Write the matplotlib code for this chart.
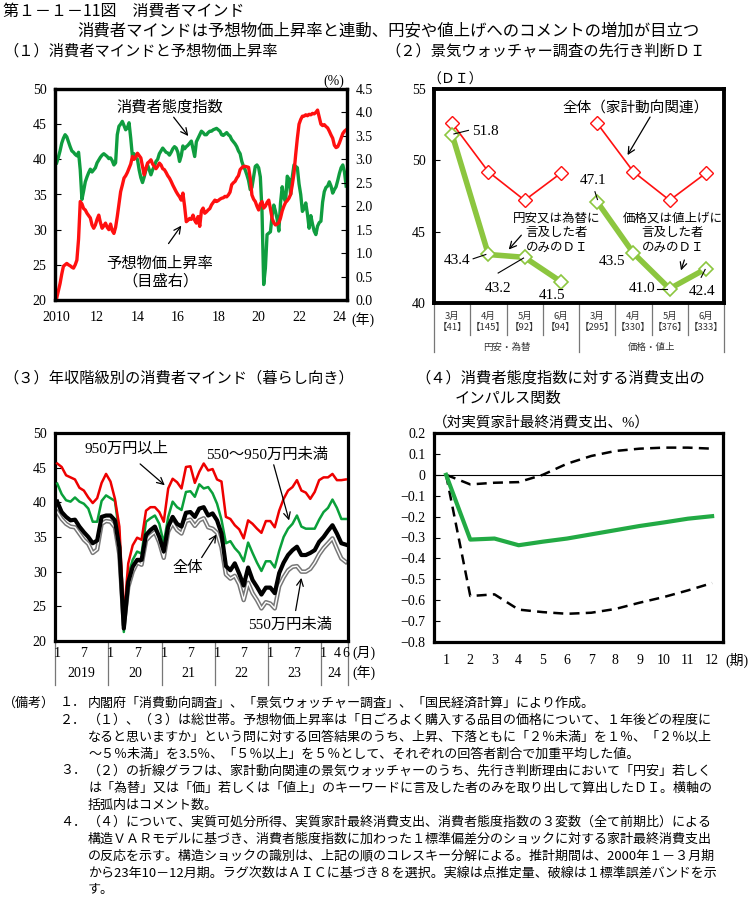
import numpy as np
import matplotlib
matplotlib.use('Agg')
import matplotlib.pyplot as plt

W, H = 752, 909
SANS = ['Noto Sans CJK JP', 'DejaVu Sans']
SERIF = ['Liberation Serif', 'Noto Sans CJK JP', 'DejaVu Sans']
plt.rcParams['font.family'] = SERIF

# (1) 消費者態度指数（左軸）と予想物価上昇率（右軸, %） 2010年1月～2024年5月
cci = [
    39.5, 40.3, 41.2, 42.3, 43.0, 43.5, 43.2, 42.5, 41.8, 41.2, 41.0, 40.7,
    40.5, 41.0, 38.5, 34.3, 35.5, 36.8, 37.5, 38.1, 38.6, 38.2, 38.5, 38.8,
    39.5, 39.9, 40.3, 40.6, 40.8, 40.6, 40.4, 40.1, 40.2, 39.8, 39.2, 39.5,
    43.5, 44.7, 45.0, 45.4, 44.8, 44.2, 44.5, 45.2, 43.0, 40.4, 40.8, 40.2,
    40.0, 38.5, 37.4, 36.7, 37.5, 38.5, 39.2, 38.5, 37.8, 38.5, 39.0, 39.7,
    40.0, 40.8, 41.2, 41.6, 41.3, 41.0, 40.9, 40.6, 41.0, 41.5, 41.8, 41.6,
    41.0, 39.7, 40.5, 41.9, 41.5, 41.8, 42.0, 42.3, 42.6, 41.5, 40.4, 42.5,
    43.0, 43.5, 44.0, 43.8, 43.5, 43.5, 43.8, 44.0, 44.0, 44.2, 44.3, 44.4,
    44.2, 44.0, 43.5, 43.4, 43.6, 43.8, 43.5, 43.3, 42.8, 42.5, 42.2, 41.8,
    41.2, 40.8, 39.7, 39.0, 38.5, 37.8, 37.0, 35.7, 36.0, 37.5, 39.0, 39.2,
    38.8, 37.5, 32.6, 22.2, 24.5, 29.3, 29.5, 29.7, 32.0, 33.5, 32.6, 31.5,
    29.8, 33.8, 36.1, 34.5, 34.0, 37.6, 37.2, 35.0, 37.5, 39.2, 39.0, 38.8,
    36.5, 35.0, 32.6, 33.0, 33.8, 32.2, 30.2, 32.0, 30.8, 29.8, 29.3, 30.5,
    31.0, 31.2, 33.9, 35.4, 36.0, 36.2, 36.8, 36.2, 35.2, 35.7, 36.1, 37.0,
    38.0, 38.8, 39.2, 38.2, 36.2,
]
infl = [
    0.04, 0.20, 0.35, 0.55, 0.72, 0.75, 0.78, 0.75, 0.73, 0.70, 0.68, 0.75,
    0.85, 1.30, 2.10, 2.05, 1.95, 1.92, 1.85, 1.80, 1.75, 1.60, 1.53, 1.60,
    1.72, 1.81, 1.65, 1.53, 1.58, 1.64, 1.55, 1.50, 1.62, 1.48, 1.42, 1.55,
    1.78, 2.05, 2.31, 2.45, 2.60, 2.65, 2.72, 2.81, 2.90, 3.06, 3.00, 3.05,
    3.13, 3.08, 3.03, 2.85, 2.67, 2.80, 2.92, 2.95, 2.99, 2.90, 2.85, 2.80,
    2.85, 2.92, 2.88, 2.80, 2.78, 2.72, 2.65, 2.60, 2.53, 2.45, 2.38, 2.31,
    2.25, 2.20, 2.13, 2.28, 2.00, 1.67, 1.70, 1.74, 1.72, 1.81, 1.70, 1.64,
    1.78, 1.57, 1.90, 1.96, 1.85, 1.88, 1.92, 1.95, 2.03, 2.08, 2.13, 2.10,
    2.12, 2.15, 2.17, 2.18, 2.21, 2.20, 2.24, 2.30, 2.46, 2.50, 2.53, 2.60,
    2.65, 2.78, 2.82, 2.85, 2.85, 2.84, 2.83, 2.60, 2.24, 2.15, 2.10, 2.00,
    1.92, 2.05, 2.10, 1.96, 2.00, 2.08, 2.13, 1.95, 1.74, 1.65, 1.60, 1.62,
    1.65, 1.75, 1.90, 2.00, 2.08, 2.12, 2.17, 2.25, 2.46, 2.70, 3.10, 3.45,
    3.75, 3.85, 3.92, 3.92, 3.95, 3.93, 3.96, 3.95, 3.98, 3.97, 4.00, 4.05,
    3.90, 3.75, 3.72, 3.74, 3.70, 3.67, 3.60, 3.52, 3.45, 3.30, 3.25, 3.27,
    3.35, 3.45, 3.55, 3.60, 3.63,
]
year_ticks1 = ['2010', '12', '14', '16', '18', '20', '22', '24']

# (2) 景気ウォッチャー 先行き判断DI
cats2 = ['3月\n【41】', '4月\n【145】', '5月\n【92】', '6月\n【94】',
         '3月\n【295】', '4月\n【330】', '5月\n【376】', '6月\n【333】']
groups2 = ['円安・為替', '価格・値上']
total_yen = [52.6, 49.2, 47.2, 49.1]
total_price = [52.6, 49.2, 47.2, 49.1]
di_yen = [51.8, 43.4, 43.2, 41.5]
di_price = [47.1, 43.5, 41.0, 42.4]

# (3) 年収階級別（暮らし向き） 2019年1月～2024年6月
inc_high = [
    45.6, 45.1, 43.9, 43.6, 43.3, 42.1, 41.7, 40.7, 39.9, 40.6, 42.8, 44.1,
    43.0, 40.5, 36.5, 23.5, 31.2, 33.8, 34.9, 34.6, 38.8, 39.3, 39.3, 38.6,
    37.2, 42.0, 43.4, 42.9, 42.0, 45.1, 45.2, 42.8, 44.4, 45.6, 44.6, 44.8,
    43.3, 43.0, 37.9, 37.6, 36.7, 36.1, 34.8, 37.4, 36.9, 36.2, 35.6, 37.3,
    37.3, 36.4, 38.8, 40.5, 41.7, 42.2, 43.2, 41.7, 41.4, 40.5, 41.5, 43.2,
    43.6, 43.6, 44.1, 43.2, 43.2, 43.3,
]
inc_mid = [
    42.7, 41.2, 40.3, 40.1, 40.7, 40.1, 39.8, 39.1, 37.2, 37.2, 40.2, 41.0,
    40.6, 40.2, 35.5, 21.3, 29.5, 31.7, 32.9, 32.6, 37.2, 37.7, 38.1, 36.9,
    34.1, 37.9, 40.1, 39.3, 38.9, 41.5, 41.6, 40.8, 42.6, 42.0, 42.2, 41.3,
    39.8, 37.5, 34.1, 34.4, 33.4, 32.7, 31.5, 34.2, 32.7, 31.3, 30.1, 31.5,
    31.5, 30.6, 33.0, 35.0, 36.2, 36.9, 38.1, 36.5, 36.2, 36.2, 36.2, 37.5,
    38.6, 39.2, 40.4, 39.2, 37.6, 37.6,
]
inc_all = [
    40.1, 38.6, 37.9, 37.4, 37.5, 36.5, 35.7, 35.0, 34.1, 34.5, 37.9, 38.1,
    38.1, 37.4, 33.5, 21.8, 28.5, 30.7, 31.7, 31.7, 35.3, 36.0, 36.5, 35.0,
    32.9, 36.5, 37.9, 36.9, 36.5, 38.5, 38.6, 37.9, 39.1, 39.3, 38.1, 38.4,
    37.4, 35.5, 30.8, 30.2, 31.2, 29.7, 28.0, 30.6, 28.8, 27.8, 26.7, 27.7,
    27.7, 26.9, 29.8, 31.3, 32.4, 33.1, 33.6, 32.4, 32.4, 32.7, 33.1, 34.3,
    35.0, 35.9, 36.7, 35.5, 34.1, 33.9,
]
inc_low = [
    38.6, 37.6, 36.9, 36.5, 36.4, 35.5, 34.6, 34.0, 32.7, 33.2, 36.9, 37.3,
    37.2, 36.4, 32.5, 22.3, 27.8, 30.0, 31.3, 31.0, 34.5, 35.2, 35.7, 34.2,
    32.0, 35.8, 37.0, 36.0, 35.5, 37.3, 37.5, 36.6, 37.4, 37.7, 36.4, 36.2,
    35.6, 33.5, 29.6, 29.0, 29.4, 28.2, 25.9, 28.4, 26.9, 25.9, 24.7, 25.6,
    25.4, 24.7, 27.9, 29.2, 30.2, 30.7, 30.8, 30.0, 30.0, 30.4, 31.3, 32.5,
    33.4, 34.1, 34.8, 33.3, 31.9, 31.4,
]
years3 = ['2019', '20', '21', '22', '23', '24']

# (4) インパルス応答
periods = list(range(1, 13))
irf = [0.0, -0.31, -0.305, -0.337, -0.32, -0.305, -0.285, -0.265, -0.245, -0.228, -0.21, -0.198]
irf_up = [0.0, -0.046, -0.038, -0.035, 0.0, 0.053, 0.09, 0.114, 0.125, 0.13, 0.13, 0.125]
irf_lo = [0.0, -0.58, -0.572, -0.645, -0.657, -0.665, -0.66, -0.642, -0.612, -0.585, -0.553, -0.518]

fig = plt.figure(figsize=(W / 100, H / 100), dpi=100)
fig.patch.set_facecolor('white')


def box(l, t, r, b):
    return fig.add_axes([l / W, 1 - b / H, (r - l) / W, (b - t) / H])


def ftext(x, y, s, **kw):
    kw.setdefault('va', 'center')
    fig.text(x / W, 1 - y / H, s, **kw)


def frame(ax, lw=2.3):
    for sp in ax.spines.values():
        sp.set_linewidth(lw)
        sp.set_color('black')
    ax.tick_params(direction='in', length=4, width=0.8, labelsize=10)


def arrow(ax, start, tip):
    ax.annotate('', xy=tip, xytext=start,
                arrowprops=dict(arrowstyle='->', lw=0.9, color='black', mutation_scale=12))


# ---- titles
ftext(3, 11, '第１－１－11図　消費者マインド', family=SANS, fontsize=11.5)
ftext(388, 31, '消費者マインドは予想物価上昇率と連動、円安や値上げへのコメントの増加が目立つ',
      family=SANS, fontsize=11.8, ha='center')
ftext(3, 51, '（１）消費者マインドと予想物価上昇率', family=SANS, fontsize=11)
ftext(385, 51, '（２）景気ウォッチャー調査の先行き判断ＤＩ', family=SANS, fontsize=11)
ftext(3, 378, '（３）年収階級別の消費者マインド（暮らし向き）', family=SANS, fontsize=11)
ftext(415, 378, '（４）消費者態度指数に対する消費支出の', family=SANS, fontsize=11)
ftext(455, 398, 'インパルス関数', family=SANS, fontsize=11)

# ---- (1)
ax1 = box(55, 89, 347, 300)
x1 = np.arange(len(cci))
ax1.plot(x1, cci, color='#0f9d3f', lw=2.4, zorder=2)
ax1.set_xlim(-1, 172.5)
ax1.set_ylim(20, 50)
ax1.set_yticks(range(20, 51, 5))
ax1.set_xticks(range(0, 169, 24))
ax1.set_xticklabels(year_ticks1)
frame(ax1)
ax1.tick_params(axis='x', length=0, pad=8)
ax1.tick_params(axis='y', pad=6)
ax1r = ax1.twinx()
ax1r.plot(x1, infl, color='#ff1010', lw=2.4)
ax1r.set_ylim(0, 4.5)
ax1r.set_yticks(np.arange(0, 4.51, 0.5))
ax1r.set_yticklabels([f'{v:.1f}' for v in np.arange(0, 4.51, 0.5)])
frame(ax1r)
ax1r.tick_params(axis='y', pad=6)
ax1.text(67.3, 47.4, '消費者態度指数', ha='center', va='center', fontsize=11)
arrow(ax1, (68.5, 46.3), (79.2, 43.0))
ax1.text(61.4, 23.9, '予想物価上昇率\n（目盛右）', ha='center', va='center', fontsize=11, linespacing=1.3)
arrow(ax1, (65.5, 27.7), (75.0, 30.9))
ftext(334, 81, '(%)', fontsize=10, ha='center')
ftext(351, 320, '(年)', fontsize=10, ha='left')

# ---- (2)
ax2 = box(434, 89, 724, 303)
xa = np.arange(4)
xb = np.arange(4, 8)
for xs, ys in ((xa, total_yen), (xb, total_price)):
    ax2.plot(xs, ys, color='#ff1010', lw=1.2, marker='D', ms=7.5, mfc='white', mec='#ff1010', mew=1.0)
for xs, ys in ((xa, di_yen), (xb, di_price)):
    ax2.plot(xs, ys, color='#8cc63f', lw=4, marker='D', ms=7.5, mfc='white', mec='#8cc63f', mew=1.2)
ax2.set_xlim(-0.5, 7.5)
ax2.set_ylim(40, 55)
ax2.set_yticks([40, 45, 50, 55])
ax2.set_xticks([])
frame(ax2, 2.8)
ax2.tick_params(axis='y', pad=6)
ftext(455, 80, '（ＤＩ）', fontsize=10, ha='center')

lab = dict(fontsize=11, va='center')
ax2.text(0.55, 52.0, '51.8', ha='left', **lab)
ax2.plot([0.05, 0.45], [51.85, 52.1], color='black', lw=0.8)
ax2.text(0.5, 43.0, '43.4', ha='right', **lab)
ax2.plot([0.58, 0.93], [43.1, 43.4], color='black', lw=0.8)
ax2.text(1.27, 41.0, '43.2', ha='center', **lab)
ax2.plot([1.27, 1.97], [42.1, 43.15], color='black', lw=0.8)
ax2.text(2.75, 40.5, '41.5', ha='center', **lab)
ax2.text(3.89, 48.6, '47.1', ha='center', **lab)
ax2.plot([3.94, 4.01], [47.8, 47.25], color='black', lw=0.8)
ax2.text(4.41, 42.9, '43.5', ha='center', **lab)
ax2.text(5.6, 41.0, '41.0', ha='right', **lab)
ax2.plot([5.65, 5.93], [41.0, 41.0], color='black', lw=0.8)
ax2.text(6.9, 40.8, '42.4', ha='center', **lab)
ax2.plot([6.87, 6.98], [41.8, 42.35], color='black', lw=0.8)

ax2.text(5.05, 53.7, '全体（家計動向関連）', ha='center', va='center', fontsize=10.5)
arrow(ax2, (5.5, 53.2), (4.8, 50.2))
ax2.text(2.89, 44.9, '円安又は為替に\n言及した者\nのみのＤＩ', ha='center', va='center',
         fontsize=9, linespacing=1.25)
arrow(ax2, (1.96, 44.9), (1.51, 43.6))
ax2.text(6.09, 44.9, '価格又は値上げに\n言及した者\nのみのＤＩ', ha='center', va='center',
         fontsize=9, linespacing=1.25)
arrow(ax2, (6.43, 43.2), (6.29, 42.1))

tr2 = ax2.get_xaxis_transform()
for i, c in enumerate(cats2):
    ax2.text(i, -0.09, c, transform=tr2, ha='center', va='center', fontsize=6.8,
             family=SANS, color='#333333', linespacing=1.3)
for b in (0.5, 1.5, 2.5, 4.5, 5.5, 6.5):
    ax2.plot([b, b], [0, -0.15], transform=tr2, color='#777777', lw=0.9, clip_on=False)
for b in (-0.5, 3.5, 7.5):
    ax2.plot([b, b], [0, -0.23], transform=tr2, color='#777777', lw=0.9, clip_on=False)
for i, g in enumerate(groups2):
    ax2.text(1.5 + 4 * i, -0.206, g, transform=tr2, ha='center', va='center', fontsize=6.8,
             family=SANS, color='#333333')

# ---- (3)
ax3 = box(55, 433, 348, 641)
x3 = np.arange(len(inc_all))
ax3.plot(x3, inc_low, color='#777777', lw=3.2, zorder=2)
ax3.plot(x3, inc_low, color='white', lw=1.0, zorder=2.1)
ax3.plot(x3, inc_mid, color='#0aa03a', lw=1.8, zorder=3)
ax3.plot(x3, inc_high, color='#ee0000', lw=1.8, zorder=3)
ax3.plot(x3, inc_all, color='black', lw=3.0, zorder=4)
ax3.set_xlim(-0.5, 65.5)
ax3.set_ylim(20, 50)
ax3.set_yticks(range(20, 51, 5))
ax3.set_xticks([])
frame(ax3)
ax3.tick_params(axis='y', pad=6)
tr3 = ax3.get_xaxis_transform()
for k, y in enumerate(years3):
    start = 12 * k
    months = [1, 7] if k < 5 else [1, 4, 6]
    for m in months:
        ax3.text(start + m - 1, -0.058, str(m), transform=tr3, ha='center', va='center', fontsize=10)
    end = min(start + 11.5, 65.5)
    ax3.text((start - 0.5 + end) / 2, -0.154, y, transform=tr3, ha='center', va='center', fontsize=10)
    ax3.plot([start - 0.5] * 2, [0, -0.212], transform=tr3, color='#777777', lw=0.9, clip_on=False)
ax3.plot([65.5] * 2, [0, -0.212], transform=tr3, color='#777777', lw=0.9, clip_on=False)
ftext(352, 653, '(月)', fontsize=10, ha='left')
ftext(352, 673, '(年)', fontsize=10, ha='left')

ax3.text(15.7, 47.7, '950万円以上', ha='center', va='center', fontsize=11)
arrow(ax3, (18.2, 45.8), (24.7, 42.2))
ax3.text(47.3, 46.8, '550～950万円未満', ha='center', va='center', fontsize=11)
arrow(ax3, (48.6, 45.8), (52.4, 37.0))
ax3.text(29.5, 30.5, '全体', ha='center', va='center', fontsize=11)
arrow(ax3, (32.2, 31.7), (36.2, 35.7))
ax3.text(52.4, 22.3, '550万円未満', ha='center', va='center', fontsize=11)
arrow(ax3, (53.6, 24.0), (55.1, 29.5))

# ---- (4)
ax4 = box(434, 433, 723, 642)
ax4.axhline(0, color='black', lw=0.8)
ax4.plot(periods, irf_up, color='black', lw=1.8, dashes=(4, 2.5))
ax4.plot(periods, irf_lo, color='black', lw=1.8, dashes=(4, 2.5))
ax4.plot(periods, irf, color='#22aa44', lw=3)
ax4.set_xlim(0.5, 12.45)
ax4.set_ylim(-0.8, 0.2)
yt4 = np.round(np.arange(-0.8, 0.21, 0.1), 1)
ax4.set_yticks(yt4)
ax4.set_yticklabels(['0' if v == 0 else f'{v:.1f}'.replace('-', '−') for v in yt4])
ax4.set_xticks(periods)
frame(ax4)
ax4.tick_params(axis='x', length=0, pad=9)
ax4.tick_params(axis='y', pad=6)
ftext(433, 423, '（対実質家計最終消費支出、%）', fontsize=10.5, ha='left')
ftext(725, 660, '(期)', fontsize=10, ha='left')

# ---- notes
notes = [
    ('（備考）', '１．', '内閣府「消費動向調査」、「景気ウォッチャー調査」、「国民経済計算」により作成。'),
    ('', '２．', '（１）、（３）は総世帯。予想物価上昇率は「日ごろよく購入する品目の価格について、１年後どの程度に'),
    ('', '', 'なると思いますか」という問に対する回答結果のうち、上昇、下落ともに「２％未満」を１％、「２％以上'),
    ('', '', '～５％未満」を3.5％、「５％以上」を５％として、それぞれの回答者割合で加重平均した値。'),
    ('', '３．', '（２）の折線グラフは、家計動向関連の景気ウォッチャーのうち、先行き判断理由において「円安」若しく'),
    ('', '', 'は「為替」又は「価」若しくは「値上」のキーワードに言及した者のみを取り出して算出したＤＩ。横軸の'),
    ('', '', '括弧内はコメント数。'),
    ('', '４．', '（４）について、実質可処分所得、実質家計最終消費支出、消費者態度指数の３変数（全て前期比）による'),
    ('', '', '構造ＶＡＲモデルに基づき、消費者態度指数に加わった１標準偏差分のショックに対する家計最終消費支出'),
    ('', '', 'の反応を示す。構造ショックの識別は、上記の順のコレスキー分解による。推計期間は、2000年１－３月期'),
    ('', '', 'から23年10－12月期。ラグ次数はＡＩＣに基づき８を選択。実線は点推定量、破線は１標準誤差バンドを示'),
    ('', '', 'す。'),
]
for i, (head, num, body) in enumerate(notes):
    y = 703 + 17 * i
    if head:
        ftext(3, y, head, family=SANS, fontsize=9.4)
    if num:
        ftext(60, y, num, family=SANS, fontsize=9.4)
    ftext(88, y, body, family=SANS, fontsize=9.4)

fig.savefig('out.png', dpi=100, facecolor='white')
